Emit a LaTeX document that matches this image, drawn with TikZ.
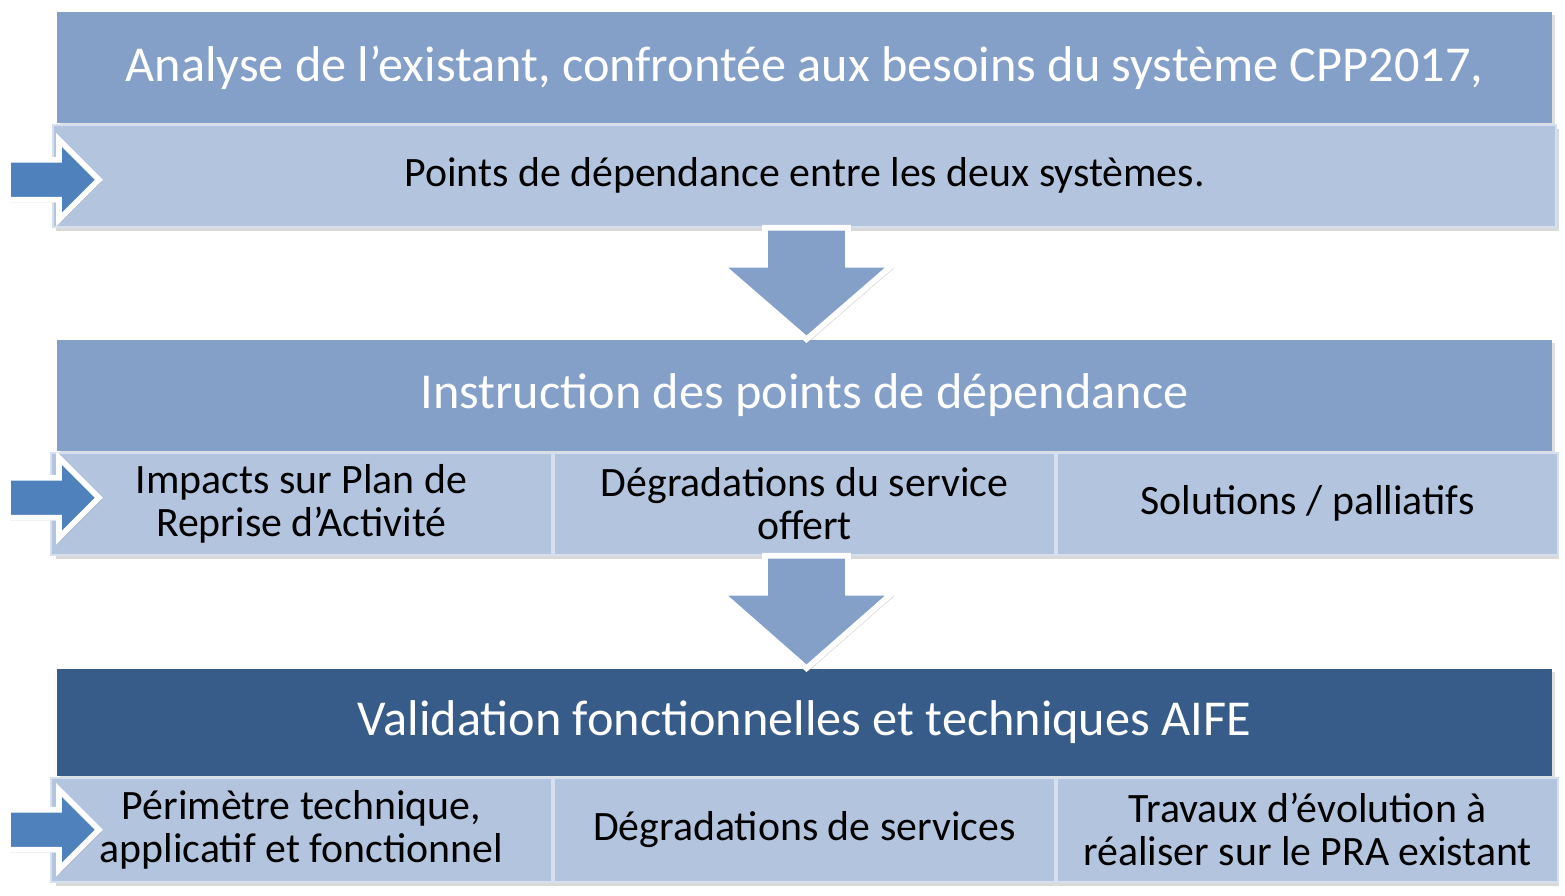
\documentclass[tikz,border=0pt]{standalone}
\usepackage{fontspec}
\setmainfont{Carlito}
\usetikzlibrary{positioning,calc,shadows}

\definecolor{headblue}{RGB}{132,160,200}
\definecolor{darkblue}{RGB}{55,92,138}
\definecolor{cellblue}{RGB}{179,196,222}
\definecolor{arrowblue}{RGB}{79,129,189}

\begin{document}
\begin{tikzpicture}
[every node/.style={rectangle,inner sep=0pt,align=center},%
  head/.style={fill=headblue,text=white,minimum width=14.95cm,minimum height=1.11cm,%
    font=\fontsize{14.3}{17}\selectfont,drop shadow={opacity=0.25,shadow xshift=0.03cm,shadow yshift=-0.03cm}},%
  cell/.style={fill=cellblue,draw=white!45!cellblue,line width=0.6pt,minimum height=1.02cm,%
    font=\fontsize{11.9}{12.3}\selectfont},%
  row/.style={cell,minimum width=15.03cm,drop shadow={opacity=0.3,shadow xshift=0.03cm,shadow yshift=-0.04cm}},%
  third/.style={cell,minimum width=5.01cm},%
  dnarrow/.style={fill=headblue,draw=white,line width=1.6pt,line join=miter,%
    drop shadow={opacity=0.3,shadow xshift=0.02cm,shadow yshift=-0.03cm}},%
  rtarrow/.style={fill=arrowblue,draw=white,line width=1.6pt,line join=miter,%
    drop shadow={opacity=0.3,shadow xshift=0.02cm,shadow yshift=-0.03cm}}]
\useasboundingbox (0,0) rectangle (15.65,-8.96);

% first step
\node[head] (h1) at (8.045,-0.675) {Analyse de l’existant, confrontée aux besoins du système CPP2017,};
\node[row,below=0pt of h1] (s1) {Points de dépendance entre les deux systèmes.};

% second step
\node[head] (h2) at (8.045,-3.955) {Instruction des points de dépendance};
\node[row,below=0pt of h2] (s2) {};
\node[third] (s2b) at (s2) {Dégradations du service\\offert};
\node[third,left=0pt of s2b] (s2a) {Impacts sur Plan de\\Reprise d’Activité};
\node[third,right=0pt of s2b] (s2c) {Solutions / palliatifs};

% third step
\node[head,fill=darkblue,minimum height=1.07cm] (h3) at (8.045,-7.225) {Validation fonctionnelles et techniques AIFE};
\node[row,below=0pt of h3,minimum height=1.04cm] (s3) {};
\node[third,minimum height=1.04cm] (s3b) at (s3) {Dégradations de services};
\node[third,minimum height=1.04cm,left=0pt of s3b] (s3a) {Périmètre technique,\\applicatif et fonctionnel};
\node[third,minimum height=1.04cm,right=0pt of s3b] (s3c) {Travaux d’évolution à\\réaliser sur le PRA existant};

% down arrows
\draw[dnarrow] ($(s1.south)+(-0.395,0)$) -- ++(0,-0.37) -- ++(-0.445,0) -- ($(h2.north)+(0.02,0)$)
  -- ($(s1.south)+(0.88,-0.37)$) -- ++(-0.445,0) -- ++(0,0.37) -- cycle;
\draw[dnarrow] ($(s2.south)+(-0.395,0)$) -- ++(0,-0.37) -- ++(-0.445,0) -- ($(h3.north)+(0.02,0)$)
  -- ($(s2.south)+(0.88,-0.37)$) -- ++(-0.445,0) -- ++(0,0.37) -- cycle;

% side arrows
\draw[rtarrow] ($(s1.west)+(-0.44,-0.24)$) -- ++(0.51,0) -- ++(0,-0.20) -- ($(s1.west)+(0.47,-0.04)$)
  -- ($(s1.west)+(0.07,0.36)$) -- ++(0,-0.20) -- ($(s1.west)+(-0.44,0.16)$) -- cycle;
\draw[rtarrow] ($(s2.west)+(-0.44,-0.14)$) -- ++(0.51,0) -- ++(0,-0.20) -- ($(s2.west)+(0.47,0.06)$)
  -- ($(s2.west)+(0.07,0.46)$) -- ++(0,-0.20) -- ($(s2.west)+(-0.44,0.26)$) -- cycle;
\draw[rtarrow] ($(s3.west)+(-0.44,-0.20)$) -- ++(0.51,0) -- ++(0,-0.20) -- ($(s3.west)+(0.47,0)$)
  -- ($(s3.west)+(0.07,0.40)$) -- ++(0,-0.20) -- ($(s3.west)+(-0.44,0.20)$) -- cycle;
\end{tikzpicture}
\end{document}
